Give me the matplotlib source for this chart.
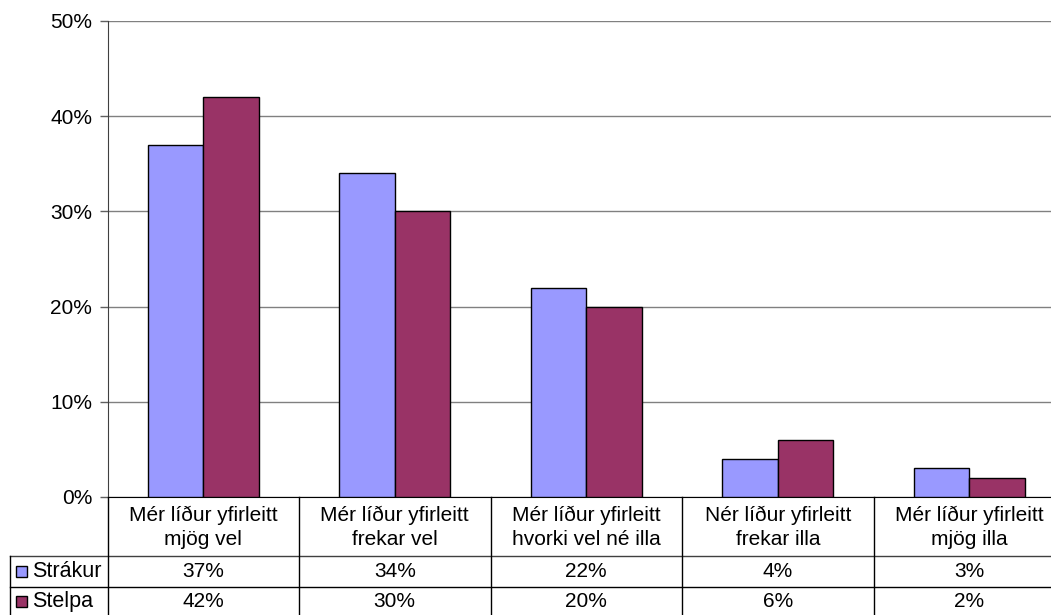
import matplotlib
matplotlib.use("Agg")
import matplotlib.pyplot as plt
import matplotlib.transforms as mtransforms
from matplotlib.patches import Rectangle

categories = [
    "Mér líður yfirleitt\nmjög vel",
    "Mér líður yfirleitt\nfrekar vel",
    "Mér líður yfirleitt\nhvorki vel né illa",
    "Nér líður yfirleitt\nfrekar illa",
    "Mér líður yfirleitt\nmjög illa",
]
series_names = ["Strákur", "Stelpa"]
strakur = [37, 34, 22, 4, 3]
stelpa = [42, 30, 20, 6, 2]
yticks = [0, 10, 20, 30, 40, 50]
colors = ["#9999FF", "#993366"]

plt.rcParams["font.family"] = ["Liberation Sans", "DejaVu Sans"]
FS = 15

W, H = 1051, 615
fig = plt.figure(figsize=(W / 100, H / 100), dpi=100)

# plot area in pixels (the right edge runs past the canvas)
left_px, right_px, top_px, bottom_px = 107.5, 1065.0, 21.0, 497.0
ax = fig.add_axes([left_px / W, 1 - bottom_px / H,
                   (right_px - left_px) / W, (bottom_px - top_px) / H])

n = len(categories)
xs = list(range(n))
bw = 0.29
ax.bar([x - bw for x in xs], strakur, width=bw, align="edge",
       color=colors[0], edgecolor="black", linewidth=1, zorder=3)
ax.bar(xs, stelpa, width=bw, align="edge",
       color=colors[1], edgecolor="black", linewidth=1, zorder=3)

ax.set_xlim(-0.5, n - 0.5)
ax.set_ylim(0, 50)
ax.set_yticks(yticks)
ax.set_yticklabels([f"{v}%" for v in yticks], fontsize=FS)
ax.set_xticks([])
ax.yaxis.grid(True, color="#808080", linewidth=1, zorder=0)
ax.tick_params(axis="y", length=6, width=1, color="#606060", pad=5)
for s in ["top", "right"]:
    ax.spines[s].set_visible(False)
ax.spines["left"].set_color("#404040")
ax.spines["bottom"].set_color("black")
ax.set_axisbelow(True)

# data table below the plot area
ax_h_px = bottom_px - top_px
ax_w_px = right_px - left_px

def ay(ypx):
    return (bottom_px - ypx) / ax_h_px

def axx(xpx):
    return (xpx - left_px) / ax_w_px

blend = mtransforms.blended_transform_factory(ax.transData, ax.transAxes)
line_kw = dict(color="black", linewidth=1, clip_on=False)

row1_px, row2_px, end_px = 556.0, 587.0, 620.0
tab_left_px = 10.0

# horizontal rules
ax.plot([axx(tab_left_px), 1.0], [ay(row1_px)] * 2, transform=ax.transAxes,
        **{**line_kw, "color": "#404040"})
ax.plot([axx(tab_left_px), 1.0], [ay(row2_px)] * 2, transform=ax.transAxes, **line_kw)

# vertical rules
ax.plot([0, 0], [0, ay(end_px)], transform=ax.transAxes, **line_kw)
for i in range(1, n):
    ax.plot([i - 0.5, i - 0.5], [0, ay(end_px)], transform=blend, **line_kw)
ax.plot([axx(tab_left_px)] * 2, [ay(row1_px), ay(end_px)], transform=ax.transAxes, **line_kw)

# category header cells
for i, c in enumerate(categories):
    ax.text(i, ay(527.5), c, transform=blend, ha="center", va="center",
            fontsize=FS, linespacing=1.3, clip_on=False)

# value rows
row_centers = [ay(571.5), ay(601.5)]
for vals, yc in zip([strakur, stelpa], row_centers):
    for i, v in enumerate(vals):
        ax.text(i, yc, f"{v}%", transform=blend, ha="center", va="center",
                fontsize=FS, clip_on=False)

# legend keys in the row headers
sq = 11.0
for name, col, yc_px in zip(series_names, colors, [571.5, 601.5]):
    x0 = 16.0
    y0 = yc_px + sq / 2
    rect = Rectangle((axx(x0), ay(y0)), sq / ax_w_px, sq / ax_h_px,
                     transform=ax.transAxes, facecolor=col, edgecolor="black",
                     linewidth=1, clip_on=False)
    ax.add_patch(rect)
    ax.text(axx(32.0), ay(yc_px), name, transform=ax.transAxes, ha="left",
            va="center", fontsize=FS + 0.5, clip_on=False)

fig.savefig("out.png", dpi=100)
